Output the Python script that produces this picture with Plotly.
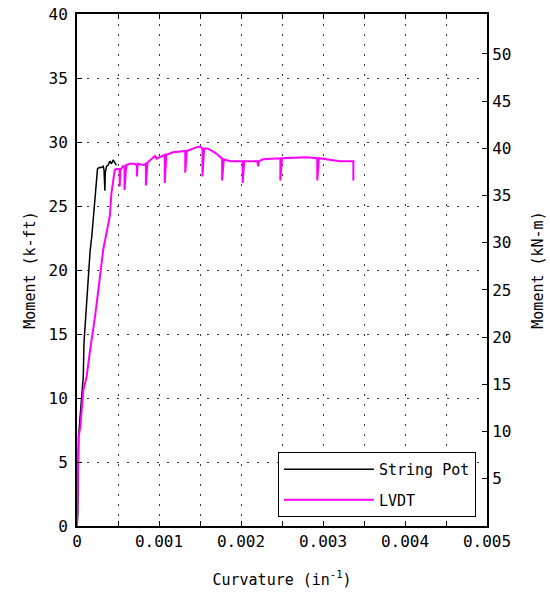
import plotly.graph_objects as go

# String pot curvature (1/in) and moment (k-ft)
string_pot_curv = [0, 0.000010, 0.000012, 0.000015, 0.000015, 0.000020, 0.000035, 0.000050,
                   0.000058, 0.000065, 0.000077, 0.000085, 0.000100, 0.000118, 0.000130,
                   0.000150, 0.000160, 0.000180, 0.000200, 0.000210, 0.000220, 0.000225,
                   0.000230, 0.000240, 0.000250, 0.000270, 0.000300, 0.000320, 0.000330,
                   0.000340, 0.000345, 0.000360, 0.000380, 0.000400, 0.000420, 0.000440,
                   0.000460, 0.000480]
string_pot_moment = [0, 1.0, 2.5, 3.5, 5.5, 7.0, 8.3, 9.5,
                     10.4, 10.8, 11.7, 14.3, 15.8, 17.7, 19.0,
                     20.8, 21.5, 22.6, 24.2, 25.0, 25.7, 26.5,
                     27.0, 27.5, 27.9, 28.0, 28.0, 28.1, 27.8,
                     26.2, 27.6, 28.1, 28.2, 28.5, 28.3, 28.6,
                     28.4, 28.2]

# LVDT curvature (1/in) and moment (k-ft)
lvdt_curv = [0, 0.000008, 0.000015, 0.000020, 0.000040, 0.000055, 0.000060, 0.000077,
             0.000100, 0.000118, 0.000160, 0.000190, 0.000220, 0.000270, 0.000320,
             0.000360, 0.000400, 0.000420, 0.000450, 0.000460, 0.000480,
             0.000520, 0.000520, 0.000530, 0.000560, 0.000580, 0.000580, 0.000600,
             0.000650, 0.000700, 0.000730, 0.000730, 0.000740, 0.000810, 0.000840,
             0.000840, 0.000860, 0.000950, 0.000970, 0.001070, 0.001070, 0.001090,
             0.001170, 0.001320, 0.001320, 0.001340, 0.001460, 0.001500, 0.001530,
             0.001530, 0.001550, 0.001580, 0.001620, 0.001700, 0.001770, 0.001770,
             0.001790, 0.001870, 0.001950, 0.002020, 0.002020, 0.002040, 0.002200,
             0.002210, 0.002220, 0.002270, 0.002480, 0.002480, 0.002500, 0.002800,
             0.002930, 0.002930, 0.002950, 0.003100, 0.003210, 0.003370, 0.003370]
lvdt_moment = [0, 3.0, 6.0, 7.0, 7.7, 8.8, 9.8, 10.6,
               11.2, 11.7, 13.75, 15.0, 16.35, 18.96, 21.6,
               22.9, 24.2, 26.0, 27.55, 27.8, 27.9,
               27.9, 26.5, 27.8, 28.1, 28.1, 26.25, 28.2,
               28.3, 28.3, 28.2, 27.3, 28.3, 28.2, 28.3,
               26.6, 28.4, 28.9, 28.7, 29.0, 26.8, 29.0,
               29.2, 29.3, 27.6, 29.3, 29.6, 29.65, 29.5,
               27.3, 29.5, 29.5, 29.4, 29.1, 28.7, 27.0,
               28.65, 28.5, 28.5, 28.5, 26.8, 28.5, 28.5,
               28.1, 28.5, 28.65, 28.73, 27.0, 28.73, 28.8,
               28.73, 27.0, 28.73, 28.6, 28.5, 28.5, 27.0]

x_ticks = [0, 0.001, 0.002, 0.003, 0.004, 0.005]
x_tick_text = ["0", "0.001", "0.002", "0.003", "0.004", "0.005"]
kft_ticks = [0, 5, 10, 15, 20, 25, 30, 35, 40]
knm_ticks = [5, 10, 15, 20, 25, 30, 35, 40, 45, 50]

KFT_TO_KNM = 1.35582
FONT = "DejaVu Sans Mono"
GRID_DASH = "2px,8px"
GRID_COLOR = "#333333"

fig = go.Figure()
fig.add_trace(go.Scatter(x=string_pot_curv, y=string_pot_moment, mode="lines",
                         name="String Pot", line=dict(color="black", width=1.5),
                         legendgroup="a"))
fig.add_trace(go.Scatter(x=lvdt_curv, y=lvdt_moment, mode="lines",
                         name="LVDT", line=dict(color="#ff00ff", width=2),
                         legendgroup="b"))
# invisible trace carrying the kN-m axis
fig.add_trace(go.Scatter(x=[0], y=[0], yaxis="y2", mode="markers",
                         marker=dict(opacity=0), showlegend=False, hoverinfo="skip"))

fig.update_layout(
    width=550, height=596,
    margin=dict(l=77, r=63, t=14, b=70),
    paper_bgcolor="white", plot_bgcolor="white",
    font=dict(family=FONT, size=15, color="black"),
    showlegend=True,
    legend=dict(x=0.973, y=0.0176, xanchor="right", yanchor="bottom",
                bgcolor="white", bordercolor="black", borderwidth=1,
                font=dict(size=15), itemwidth=90,
                traceorder="grouped", tracegroupgap=8),
    xaxis=dict(range=[0, 0.005], tickmode="array", tickvals=x_ticks,
               ticktext=x_tick_text, tickangle=0,
               ticks="inside", ticklen=5, tickwidth=1,
               tickcolor="black", showline=True, linecolor="black", linewidth=2,
               mirror="ticks", showgrid=True, gridcolor=GRID_COLOR, gridwidth=1,
               griddash=GRID_DASH, zeroline=False, tickfont=dict(size=16),
               minor=dict(dtick=0.0005, tick0=0, ticks="inside", ticklen=5,
                          tickwidth=1, tickcolor="black", showgrid=True,
                          gridcolor=GRID_COLOR, gridwidth=1, griddash=GRID_DASH),
               automargin=False,
               title=dict(text="Curvature (in<sup>-1</sup>)", standoff=24,
                          font=dict(size=15))),
    yaxis=dict(range=[0, 40], tickmode="array", tickvals=kft_ticks,
               ticks="inside", ticklen=5, tickwidth=1, tickcolor="black",
               showline=True, linecolor="black", linewidth=2,
               showgrid=True, gridcolor=GRID_COLOR, gridwidth=1, griddash=GRID_DASH,
               zeroline=False, tickfont=dict(size=16), automargin=False,
               ticklabelstandoff=4,
               title=dict(text="Moment (k-ft)", standoff=9, font=dict(size=15))),
    yaxis2=dict(range=[0, 40 * KFT_TO_KNM], overlaying="y", side="right",
                tickmode="array", tickvals=knm_ticks, ticks="inside", ticklen=5,
                tickwidth=1, tickcolor="black", showline=True, linecolor="black",
                linewidth=2, showgrid=False, zeroline=False, tickfont=dict(size=16),
                automargin=False,
                title=dict(text="Moment (kN-m)", standoff=22, font=dict(size=15))),
)

fig.write_html("out.html")
